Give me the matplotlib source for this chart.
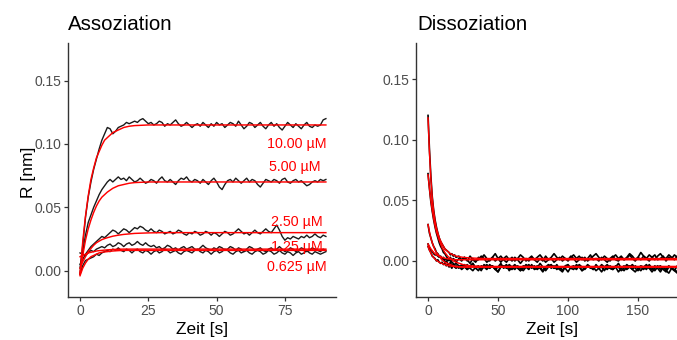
import numpy as np
import matplotlib
matplotlib.use("Agg")
import matplotlib.pyplot as plt

plt.rcParams["font.family"] = ["Liberation Sans", "DejaVu Sans"]

# all response values below are given in 1e-3 nm (divided by 1000 when plotted)

# ---------------- Assoziation: measured traces, 1 s sampling, 0..90 s ----------------
assoc_labels = ["10.00 \u00b5M", "5.00 \u00b5M", "2.50 \u00b5M", "1.25 \u00b5M", "0.625 \u00b5M"]

assoc_10 = [
    2, 20, 42, 58, 70, 80, 88, 96, 103, 108,
    113, 112, 108, 110, 113, 114, 115, 117, 116, 117,
    118, 117, 119, 120, 118, 116, 117, 115, 116, 118,
    117, 114, 116, 115, 117, 119, 116, 114, 115, 117,
    115, 113, 115, 116, 114, 117, 115, 113, 116, 114,
    117, 115, 116, 113, 115, 117, 116, 114, 118, 115,
    112, 114, 117, 116, 113, 115, 117, 114, 112, 115,
    117, 114, 116, 113, 111, 114, 117, 115, 113, 116,
    114, 112, 115, 117, 114, 113, 115, 114, 115, 119,
    120]
assoc_5 = [
    -2, 15, 28, 38, 44, 50, 55, 60, 64, 67,
    70, 72, 70, 72, 74, 72, 73, 71, 74, 72,
    70, 71, 73, 71, 69, 70, 72, 71, 69, 72,
    74, 71, 70, 72, 70, 68, 71, 73, 72, 74,
    71, 70, 72, 71, 69, 72, 70, 68, 71, 73,
    70, 66, 64, 68, 71, 72, 70, 73, 71, 69,
    71, 73, 70, 72, 71, 68, 66, 69, 72, 71,
    70, 72, 71, 69, 72, 73, 70, 69, 71, 72,
    70, 71, 69, 67, 68, 70, 71, 70, 72, 71,
    72]
assoc_2p5 = [
    5, 9, 13, 16, 19, 21, 23, 25, 27, 26,
    28, 30, 32, 31, 29, 31, 33, 32, 30, 32,
    34, 33, 35, 34, 32, 31, 33, 31, 30, 32,
    31, 29, 30, 31, 29, 30, 32, 31, 29, 28,
    30, 29, 31, 30, 28, 29, 31, 30, 28, 30,
    29, 27, 29, 31, 30, 28, 29, 31, 33, 31,
    29, 30, 28, 30, 32, 30, 29, 31, 33, 31,
    30, 33, 36, 32, 27, 24, 26, 25, 27, 26,
    25, 27, 26, 28, 26, 27, 29, 27, 26, 28,
    27]
assoc_1p25 = [
    14, 13, 12, 14, 16, 15, 17, 18, 19, 18,
    20, 21, 19, 20, 22, 21, 19, 21, 22, 20,
    21, 23, 21, 20, 22, 20, 19, 20, 18, 19,
    17, 18, 20, 19, 17, 18, 16, 18, 19, 17,
    18, 19, 17, 16, 18, 20, 18, 17, 16, 18,
    17, 19, 18, 16, 17, 19, 18, 16, 18, 17,
    15, 17, 19, 18, 16, 17, 18, 16, 15, 17,
    18, 16, 17, 19, 17, 15, 16, 18, 17, 15,
    16, 18, 17, 15, 16, 18, 17, 16, 15, 17,
    16]
assoc_0p625 = [
    -3, 4, 8, 9, 10, 11, 13, 12, 14, 15,
    16, 15, 17, 16, 18, 16, 15, 17, 16, 14,
    16, 17, 15, 14, 16, 15, 13, 15, 16, 14,
    15, 17, 16, 14, 15, 16, 14, 13, 15, 16,
    15, 14, 16, 17, 15, 14, 16, 15, 13, 15,
    16, 14, 15, 17, 16, 14, 13, 15, 16, 14,
    15, 16, 14, 13, 15, 16, 15, 13, 14, 16,
    15, 13, 14, 16, 14, 13, 15, 14, 12, 14,
    15, 13, 14, 16, 14, 13, 15, 14, 13, 14,
    15]

# fitted curves
assoc_fit_t = [0, 1, 2, 3, 4, 5, 6, 7, 8, 9, 10, 12, 14, 16, 18, 20, 25, 30, 45, 60, 75, 90]
assoc_fit_10 = [-3, 23, 43, 59, 72, 81, 89, 94, 99, 103, 105, 109, 111, 113, 114, 114.5, 115, 115, 115, 115, 115, 115]
assoc_fit_5 = [-2, 12, 24, 33, 40, 46, 51, 55, 58, 60, 62, 65, 67, 68, 69, 69.5, 70, 70, 70, 70, 70, 70]
assoc_fit_2p5 = [2, 7, 11, 15, 17.5, 20, 22, 23.3, 24.5, 25.3, 26, 27.2, 28, 28.6, 29, 29.4, 29.8, 30, 30, 30, 30, 30]
assoc_fit_1p25 = [11, 12, 13, 14, 14.5, 15, 15.5, 15.8, 16, 16.2, 16.4, 16.7, 16.9, 17, 17, 17, 17, 17, 17, 17, 17, 17]
assoc_fit_0p625 = [-4, 2, 6, 9, 11, 12, 13, 14, 14.5, 14.8, 15, 15.5, 15.8, 16, 16, 16, 16, 16, 16, 16, 16, 16]

# label positions next to the curves (data coords)
label_x = [90.4, 88.2, 88.9, 88.9, 90.4]
label_y = [0.100, 0.082, 0.0387, 0.019, 0.0032]

# ---------------- Dissoziation: 1 s sampling up to 19 s, then 2 s up to 180 s ----------------
dis_t = np.concatenate([np.arange(0, 20), np.arange(20, 181, 2)])

dis_10 = [
    120, 92, 70, 53, 42, 34, 28, 23, 19, 16, 14, 12, 10, 9, 8, 7, 5, 6, 4, 5,
    3, 4, 1, 3, 0, 4, 1, -1, 3, 2,
    5, 2, 0, 3, 6, 2, -1, 2, 4, 1,
    3, 0, 2, 5, 3, 0, 2, 4, 1, 3,
    5, 2, -1, 1, 3, 6, 3, 1, 4, 2,
    0, 3, 5, 2, 4, 1, 3, 0, 2, 4,
    6, 3, 1, 4, 2, 0, 3, 5, 2, 4,
    1, 3, 6, 4, 1, 3, 7, 4, 2, 5,
    3, 1, 4, 6, 3, 2, 5, 3, 1, 4,
    3]
dis_5 = [
    72, 60, 49, 41, 34, 28, 23, 19, 15, 12, 10, 7, 6, 4, 2, 1, 0, -1, -2, -3,
    -2, -4, -6, -3, -7, -5, -2, -6, -8, -4,
    -5, -7, -3, -5, -6, -9, -4, -5, -3, -6,
    -7, -4, -5, -8, -6, -3, -5, -4, -7, -6,
    -2, -5, -8, -5, -4, -6, -3, -7, -5, -6,
    -9, -5, -4, -6, -3, -5, -7, -4, -6, -5,
    -8, -6, -3, -5, -7, -4, -6, -5, -2, -6,
    -8, -5, -4, -7, -9, -6, -4, -5, -7, -3,
    -6, -8, -5, -4, -7, -9, -5, -6, -8, -4,
    -6]
dis_2p5 = [
    30, 23, 19, 15, 12, 10, 7, 6, 4, 3, 1, 2, -1, 0, -2, -3, -1, -4, -3, -5,
    -4, -6, -3, -5, -7, -4, -2, -6, -5, -8,
    -3, -5, -6, -4, -7, -5, -2, -6, -4, -8,
    -5, -3, -6, -8, -4, -5, -7, -3, -6, -4,
    -6, -9, -5, -3, -6, -4, -7, -5, -8, -4,
    -3, -6, -5, -7, -4, -8, -6, -3, -5, -7,
    -4, -6, -9, -5, -3, -6, -7, -4, -5, -8,
    -6, -3, -5, -7, -4, -6, -8, -5, -3, -6,
    -7, -4, -6, -9, -5, -7, -4, -6, -8, -10,
    -7]
dis_1p25 = [
    14, 11, 9, 8, 6, 5, 5, 4, 3, 4, 2, 3, 1, 2, 0, 1, 3, 0, 2, 1,
    -1, 2, 0, 3, 1, -2, 2, 0, 1, 4,
    2, -1, 1, 3, 0, 2, 4, 1, -1, 2,
    0, 3, 1, -2, 1, 2, 0, 3, 1, -1,
    2, 0, 4, 1, 2, -1, 1, 3, 0, 2,
    1, 4, 2, -1, 1, 3, 0, 2, 5, 1,
    2, 0, 3, 1, -1, 2, 4, 1, 0, 3,
    1, 2, 5, 2, 0, 3, 1, 4, 2, 0,
    3, 5, 1, 2, 4, 0, 3, 2, 5, 3,
    4]
dis_0p625 = [
    12, 9, 7, 4, 3, 2, 0, 1, -1, -2, -1, -3, -2, -4, -3, -5, -4, -6, -3, -5,
    -6, -4, -7, -5, -3, -6, -8, -5, -4, -7,
    -5, -3, -6, -4, -7, -9, -5, -4, -6, -3,
    -5, -7, -4, -6, -8, -5, -3, -6, -4, -7,
    -5, -8, -6, -4, -3, -6, -5, -7, -9, -5,
    -4, -6, -7, -3, -5, -8, -6, -4, -5, -7,
    -3, -6, -5, -8, -4, -6, -7, -5, -9, -6,
    -4, -7, -5, -3, -6, -8, -5, -7, -4, -6,
    -9, -6, -4, -7, -5, -8, -10, -6, -7, -9,
    -8]

dis_fit_t = [0, 1, 2, 3, 4, 5, 6, 8, 10, 12, 14, 16, 18, 20, 25, 30, 40, 60, 90, 120, 150, 180]
dis_fit_10 = [118, 90, 68, 52, 41, 33, 27, 19, 14, 10, 8, 6, 5, 4, 3, 2.5, 2, 2, 2, 2, 2, 2]
dis_fit_5 = [71, 60, 50, 42, 35, 29, 24, 17, 11, 7, 4, 2, 0, -1, -3, -4, -4.5, -4.5, -4.5, -4.5, -4.5, -4.5]
dis_fit_2p5 = [30, 24, 19, 15, 12, 9, 7, 4, 1, -1, -2, -3, -4, -4.5, -5, -5, -5, -5, -5, -5, -5, -5]
dis_fit_1p25 = [14, 12, 10, 8.5, 7, 6, 5, 4, 3, 2.2, 1.8, 1.5, 1.2, 1, 1, 1, 1, 1, 1, 1, 1, 1]
dis_fit_0p625 = [12, 9, 6.5, 4.5, 3, 1.5, 0.5, -1, -2, -3, -3.7, -4.2, -4.5, -4.8, -5, -5, -5, -5, -5, -5, -5, -5]

BLACK = "#1a1a1a"
RED = "#FF0000"
TICK_TXT = "#4D4D4D"
AXIS = "#333333"

W, H = 677, 340
fig = plt.figure(figsize=(W / 100, H / 100), dpi=100)
fig.patch.set_facecolor("white")

# axes placed in pixel terms of the reference
ax1 = fig.add_axes([68 / W, 1 - 297 / H, (336 - 68) / W, (297 - 43) / H])
ax2 = fig.add_axes([416 / W, 1 - 297 / H, (688 - 416) / W, (297 - 43) / H])


def style(ax):
    for s in ("top", "right"):
        ax.spines[s].set_visible(False)
    for s in ("left", "bottom"):
        ax.spines[s].set_color(AXIS)
        ax.spines[s].set_linewidth(1.0)
    ax.tick_params(length=3, width=0.9, color=AXIS, labelcolor=TICK_TXT,
                   labelsize=10, pad=2)
    ax.set_facecolor("white")


traces = [assoc_10, assoc_5, assoc_2p5, assoc_1p25, assoc_0p625]
fits = [assoc_fit_10, assoc_fit_5, assoc_fit_2p5, assoc_fit_1p25, assoc_fit_0p625]
for y in traces:
    y = np.asarray(y) / 1000
    ax1.plot(np.arange(len(y)), y, color=BLACK, lw=1.0, zorder=2)
for y in fits:
    ax1.plot(assoc_fit_t, np.asarray(y) / 1000, color=RED, lw=1.05, zorder=3)
for lab, lx, ly in zip(assoc_labels, label_x, label_y):
    ax1.text(lx, ly, lab, ha="right", va="center", color=RED, fontsize=10.3, zorder=4)

ax1.set_xlim(-4.4, 93.7)
ax1.set_ylim(-0.0208, 0.1797)
ax1.set_xticks([0, 25, 50, 75])
ax1.set_yticks([0.0, 0.05, 0.10, 0.15])
ax1.set_yticklabels(["0.00", "0.05", "0.10", "0.15"])
style(ax1)

dis_traces = [dis_10, dis_5, dis_2p5, dis_1p25, dis_0p625]
dis_fits = [dis_fit_10, dis_fit_5, dis_fit_2p5, dis_fit_1p25, dis_fit_0p625]
for y in dis_traces:
    ax2.plot(dis_t, np.asarray(y) / 1000, color="black", lw=1.2, zorder=2)
for y in dis_fits:
    ax2.plot(dis_fit_t, np.asarray(y) / 1000, color=RED, lw=1.05, zorder=3)

ax2.set_xlim(-8.6, 185.7)
ax2.set_ylim(-0.0297, 0.1797)
ax2.set_xticks([0, 50, 100, 150])
ax2.set_yticks([0.0, 0.05, 0.10, 0.15])
ax2.set_yticklabels(["0.00", "0.05", "0.10", "0.15"])
style(ax2)

# titles and axis labels
fig.text(68 / W, 1 - 30 / H, "Assoziation", ha="left", va="baseline", fontsize=14.8, color="black")
fig.text(417 / W, 1 - 30 / H, "Dissoziation", ha="left", va="baseline", fontsize=14.8, color="black")
fig.text(202 / W, 1 - 334 / H, "Zeit [s]", ha="center", va="baseline", fontsize=12.5, color="black")
fig.text(552 / W, 1 - 334 / H, "Zeit [s]", ha="center", va="baseline", fontsize=12.5, color="black")
fig.text(29 / W, 1 - 172 / H, "R [nm]", ha="center", va="center", rotation=90, fontsize=12.5, color="black")

fig.savefig("out.png", dpi=100, facecolor="white")
